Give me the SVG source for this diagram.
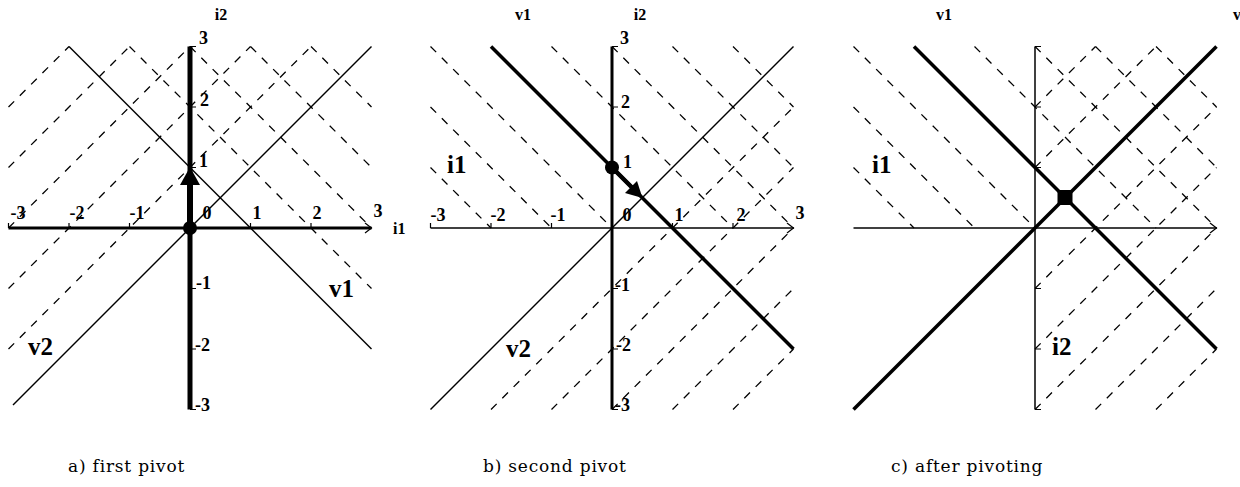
<svg xmlns="http://www.w3.org/2000/svg" width="1240" height="487" viewBox="0 0 1240 487">
<style>
.bg{fill:#fff}
.d{fill:none;stroke:#000;stroke-width:1.3;stroke-dasharray:8 8}
.s{fill:none;stroke:#000;stroke-width:1.4}
.k{fill:none;stroke:#000;stroke-width:3.5}
.ax{fill:none;stroke:#000;stroke-width:1.5}
.tk{fill:none;stroke:#000;stroke-width:1.2}
.t{font-family:"Liberation Serif",serif;font-weight:bold;font-size:18px;fill:#000}
.tl{font-family:"Liberation Serif",serif;font-weight:bold;font-size:16px;fill:#000}
.big{font-family:"Liberation Serif",serif;font-weight:bold;font-size:25px;fill:#000}
.cap{font-family:"DejaVu Serif",serif;font-size:17px;letter-spacing:0.8px;fill:#000}
</style>
<defs>
<path id="chev" d="M175,-5 L181.5,0 L175,5" class="tk"/>
</defs>
<rect class="bg" x="0" y="0" width="1240" height="487"/>

<!-- Panel a -->
<g id="panel-a" transform="translate(190,228)">
  <g id="a-dashed">
    <line class="d" x1="-181.5" y1="121" x2="121" y2="-181.5"/>
    <line class="d" x1="-181.5" y1="60.5" x2="60.5" y2="-181.5"/>
    <line class="d" x1="-181.5" y1="0" x2="0" y2="-181.5"/>
    <line class="d" x1="-181.5" y1="-60.5" x2="-60.5" y2="-181.5"/>
    <line class="d" x1="-181.5" y1="-121" x2="-121" y2="-181.5"/>
    <line class="d" x1="-60.5" y1="-181.5" x2="181.5" y2="60.5"/>
    <line class="d" x1="0" y1="-181.5" x2="181.5" y2="0"/>
    <line class="d" x1="60.5" y1="-181.5" x2="181.5" y2="-60.5"/>
    <line class="d" x1="121" y1="-181.5" x2="181.5" y2="-121"/>
  </g>
  <g id="a-v1"><line class="s" x1="-121" y1="-181.5" x2="181.5" y2="121"/></g>
  <g id="a-v2"><line class="s" x1="-177" y1="177" x2="181.5" y2="-181.5"/></g>
  <g id="a-axes">
    <line x1="-181.5" y1="0" x2="181.5" y2="0" stroke="#000" stroke-width="3"/>
    <use href="#chev"/>
    <path class="tk" d="M-181.5,0 V-5 M-121,0 V-5 M-60.5,0 V-5 M60.5,0 V-5 M121,0 V-5"/>
    <line x1="0" y1="-181.5" x2="0" y2="181.5" stroke="#000" stroke-width="5"/>
    <path class="tk" d="M0,-181.5 H6 M0,-121 H6 M0,-60.5 H6 M0,60.5 H6 M0,121 H6 M0,181.5 H6"/>
  </g>
  <g id="a-arrow">
    <line x1="0" y1="0" x2="0" y2="-44" stroke="#000" stroke-width="6"/>
    <polygon points="0,-61 -10,-43 10,-43" fill="#000"/>
    <circle cx="0" cy="0" r="7" fill="#000"/>
  </g>
</g>
<g id="a-labels">
  <text class="t" x="18" y="219" text-anchor="middle">-3</text>
  <text class="t" x="77" y="219" text-anchor="middle">-2</text>
  <text class="t" x="137" y="219" text-anchor="middle">-1</text>
  <text class="t" x="207" y="219" text-anchor="middle">0</text>
  <text class="t" x="257" y="219" text-anchor="middle">1</text>
  <text class="t" x="317" y="219" text-anchor="middle">2</text>
  <text class="t" x="378" y="217" text-anchor="middle">3</text>
  <text class="t" x="199" y="44">3</text>
  <text class="t" x="200" y="106">2</text>
  <text class="t" x="199" y="167">1</text>
  <text class="t" x="196" y="289">-1</text>
  <text class="t" x="195" y="351">-2</text>
  <text class="t" x="195" y="411">-3</text>
  <text class="tl" x="221" y="20" text-anchor="middle">i2</text>
  <text class="tl" x="393" y="234">i1</text>
  <text class="big" x="329" y="297">v1</text>
  <text class="big" x="28" y="355">v2</text>
</g>

<!-- Panel b -->
<g id="panel-b" transform="translate(612,228)">
  <g id="b-dashed">
    <line class="d" x1="-181.5" y1="-60.5" x2="-121" y2="0"/>
    <line class="d" x1="-181.5" y1="-121" x2="-60.5" y2="0"/>
    <line class="d" x1="-181.5" y1="-181.5" x2="0" y2="0"/>
    <line class="d" x1="-60.5" y1="-181.5" x2="121" y2="0"/>
    <line class="d" x1="0" y1="-181.5" x2="181.5" y2="0"/>
    <line class="d" x1="60.5" y1="-181.5" x2="181.5" y2="-60.5"/>
    <line class="d" x1="121" y1="-181.5" x2="181.5" y2="-121"/>
    <line class="d" x1="-121" y1="181.5" x2="181.5" y2="-121"/>
    <line class="d" x1="-60.5" y1="181.5" x2="181.5" y2="-60.5"/>
    <line class="d" x1="0" y1="181.5" x2="181.5" y2="0"/>
    <line class="d" x1="60.5" y1="181.5" x2="181.5" y2="60.5"/>
    <line class="d" x1="121" y1="181.5" x2="181.5" y2="121"/>
  </g>
  <g id="b-v1"><line class="k" x1="-121" y1="-181.5" x2="181.5" y2="121"/></g>
  <g id="b-v2"><line class="s" x1="-181.5" y1="181.5" x2="181.5" y2="-181.5"/></g>
  <g id="b-axes">
    <line class="ax" x1="-181.5" y1="0" x2="181.5" y2="0"/>
    <use href="#chev"/>
    <path class="tk" d="M-181.5,0 V-5 M-121,0 V-5 M-60.5,0 V-5 M60.5,0 V-5 M121,0 V-5"/>
    <line x1="0" y1="-181.5" x2="0" y2="181.5" stroke="#000" stroke-width="3"/>
    <path class="tk" d="M0,-181.5 H6 M0,-121 H6 M0,-60.5 H6 M0,60.5 H6 M0,121 H6 M0,181.5 H6"/>
  </g>
  <g id="b-arrow">
    <line x1="0" y1="-60.5" x2="20" y2="-40.5" stroke="#000" stroke-width="4.5"/>
    <polygon points="30.5,-30 13,-35 25,-47" fill="#000"/>
    <circle cx="0" cy="-60.5" r="7" fill="#000"/>
  </g>
</g>
<g id="b-labels">
  <text class="t" x="438" y="221" text-anchor="middle">-3</text>
  <text class="t" x="498" y="221" text-anchor="middle">-2</text>
  <text class="t" x="558" y="221" text-anchor="middle">-1</text>
  <text class="t" x="627" y="221" text-anchor="middle">0</text>
  <text class="t" x="679" y="221" text-anchor="middle">1</text>
  <text class="t" x="741" y="221" text-anchor="middle">2</text>
  <text class="t" x="800" y="219" text-anchor="middle">3</text>
  <text class="t" x="620" y="44">3</text>
  <text class="t" x="621" y="108">2</text>
  <text class="t" x="623" y="168">1</text>
  <text class="t" x="615" y="291">-1</text>
  <text class="t" x="616" y="351">-2</text>
  <text class="t" x="615" y="411">-3</text>
  <text class="tl" x="523" y="20" text-anchor="middle">v1</text>
  <text class="tl" x="640" y="20" text-anchor="middle">i2</text>
  <text class="big" x="447" y="173">i1</text>
  <text class="big" x="506" y="357">v2</text>
</g>

<!-- Panel c -->
<g id="panel-c" transform="translate(1035,228)">
  <g id="c-dashed">
    <line class="d" x1="-181.5" y1="-60.5" x2="-121" y2="0"/>
    <line class="d" x1="-181.5" y1="-121" x2="-60.5" y2="0"/>
    <line class="d" x1="-181.5" y1="-181.5" x2="0" y2="0"/>
    <line class="d" x1="-60.5" y1="-181.5" x2="121" y2="0"/>
    <line class="d" x1="0" y1="-181.5" x2="181.5" y2="0"/>
    <line class="d" x1="60.5" y1="-181.5" x2="181.5" y2="-60.5"/>
    <line class="d" x1="121" y1="-181.5" x2="181.5" y2="-121"/>
    <line class="d" x1="0" y1="-121" x2="60.5" y2="-181.5"/>
    <line class="d" x1="0" y1="-60.5" x2="121" y2="-181.5"/>
    <line class="d" x1="0" y1="60.5" x2="181.5" y2="-121"/>
    <line class="d" x1="0" y1="121" x2="181.5" y2="-60.5"/>
    <line class="d" x1="0" y1="181.5" x2="181.5" y2="0"/>
    <line class="d" x1="60.5" y1="181.5" x2="181.5" y2="60.5"/>
    <line class="d" x1="121" y1="181.5" x2="181.5" y2="121"/>
  </g>
  <g id="c-v1"><line class="k" x1="-121" y1="-181.5" x2="181.5" y2="121"/></g>
  <g id="c-v2"><line class="k" x1="-181.5" y1="181.5" x2="181.5" y2="-181.5"/></g>
  <g id="c-axes">
    <line class="ax" x1="-181.5" y1="0" x2="181.5" y2="0"/>
    <use href="#chev"/>
    <line class="ax" x1="0" y1="-181.5" x2="0" y2="181.5"/>
    <path class="tk" d="M0,-181.5 H6 M0,-121 H6 M0,-60.5 H6 M0,60.5 H6 M0,121 H6 M0,181.5 H6"/>
  </g>
  <g id="c-point"><rect x="22.5" y="-38" width="15" height="15" fill="#000"/></g>
</g>
<g id="c-labels">
  <text class="tl" x="944" y="20" text-anchor="middle">v1</text>
  <text class="tl" x="1233" y="20">v</text>
  <text class="big" x="872" y="173">i1</text>
  <text class="big" x="1052" y="355">i2</text>
</g>

<g id="captions">
  <text class="cap" x="68" y="472">a) first pivot</text>
  <text class="cap" x="483" y="472">b) second pivot</text>
  <text class="cap" x="891" y="472">c) after pivoting</text>
</g>
</svg>
